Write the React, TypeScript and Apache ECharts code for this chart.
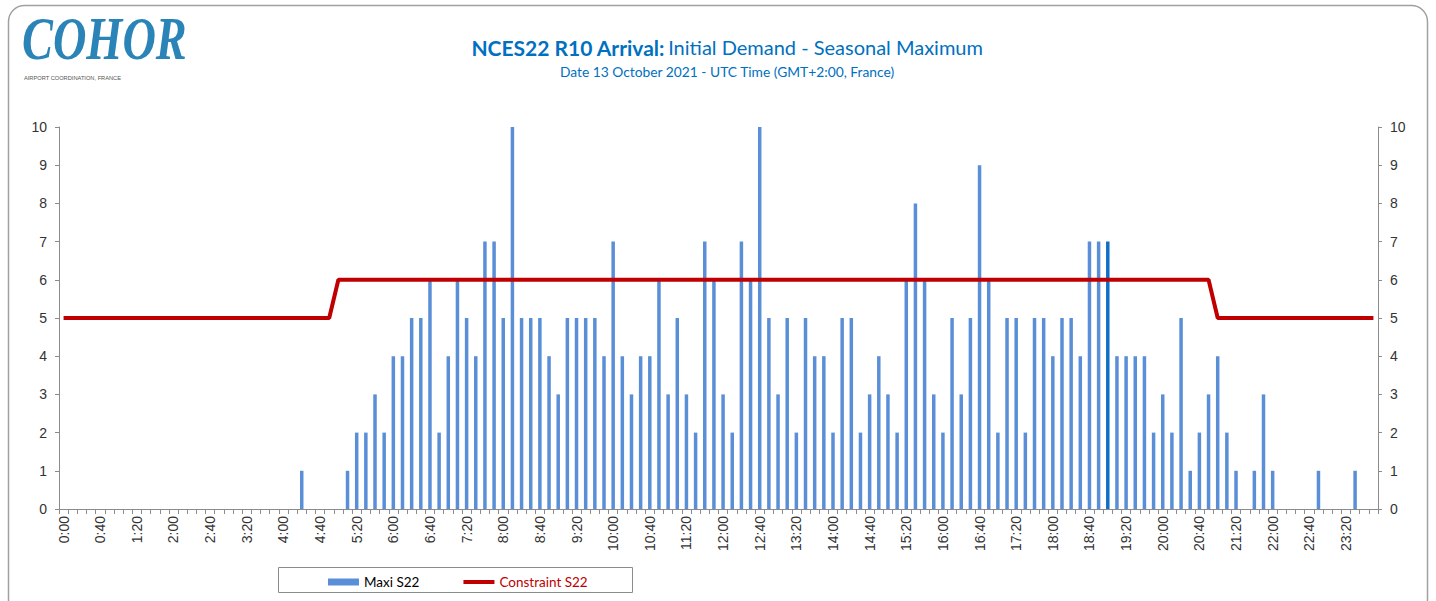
import React, { useEffect, useRef } from "react";
import * as echarts from "echarts";

const timeSlots = [
  "0:00","0:10","0:20","0:30","0:40","0:50","1:00","1:10","1:20","1:30","1:40","1:50",
  "2:00","2:10","2:20","2:30","2:40","2:50","3:00","3:10","3:20","3:30","3:40","3:50",
  "4:00","4:10","4:20","4:30","4:40","4:50","5:00","5:10","5:20","5:30","5:40","5:50",
  "6:00","6:10","6:20","6:30","6:40","6:50","7:00","7:10","7:20","7:30","7:40","7:50",
  "8:00","8:10","8:20","8:30","8:40","8:50","9:00","9:10","9:20","9:30","9:40","9:50",
  "10:00","10:10","10:20","10:30","10:40","10:50","11:00","11:10","11:20","11:30","11:40","11:50",
  "12:00","12:10","12:20","12:30","12:40","12:50","13:00","13:10","13:20","13:30","13:40","13:50",
  "14:00","14:10","14:20","14:30","14:40","14:50","15:00","15:10","15:20","15:30","15:40","15:50",
  "16:00","16:10","16:20","16:30","16:40","16:50","17:00","17:10","17:20","17:30","17:40","17:50",
  "18:00","18:10","18:20","18:30","18:40","18:50","19:00","19:10","19:20","19:30","19:40","19:50",
  "20:00","20:10","20:20","20:30","20:40","20:50","21:00","21:10","21:20","21:30","21:40","21:50",
  "22:00","22:10","22:20","22:30","22:40","22:50","23:00","23:10","23:20","23:30","23:40","23:50",
];

const maxiS22 = [
  0,0,0,0,0,0,0,0,0,0,0,0,
  0,0,0,0,0,0,0,0,0,0,0,0,
  0,0,1,0,0,0,0,1,2,2,3,2,
  4,4,5,5,6,2,4,6,5,4,7,7,
  5,10,5,5,5,4,3,5,5,5,5,4,
  7,4,3,4,4,6,3,5,3,2,7,6,
  3,2,7,6,10,5,3,5,2,5,4,4,
  2,5,5,2,3,4,3,2,6,8,6,3,
  2,5,3,5,9,6,2,5,5,2,5,5,
  4,5,5,4,7,7,7,4,4,4,4,2,
  3,2,5,1,2,3,4,2,1,0,1,3,
  1,0,0,0,0,1,0,0,0,1,0,0,
];

const highlightedSlot = "19:00";

const constraintS22: [string, number][] = [
  ["0:00", 5], ["4:50", 5], ["5:00", 6], ["20:50", 6], ["21:00", 5], ["23:50", 5],
];

const yMin = 0;
const yMax = 10;
const yInterval = 1;

const titleBold = "NCES22 R10 Arrival:";
const titleRest = "Initial Demand - Seasonal Maximum";
const subTitle = "Date 13 October 2021 - UTC Time (GMT+2:00, France)";
const logoText = "COHOR";
const logoSub = "AIRPORT COORDINATION, FRANCE";

const BLUE = "#5a8fd8";
const RED = "#c00000";
const AXIS = "#8c8c8c";
const FONT = '"Liberation Sans", Arial, sans-serif';
const TFONT = 'Lato, "Noto Sans", sans-serif';

export default function App() {
  const ref = useRef<HTMLDivElement>(null);
  useEffect(() => {
    if (!ref.current) return;
    const chart = echarts.init(ref.current, null, { renderer: "svg" });
    const yAxisCommon = {
      type: "value",
      min: yMin,
      max: yMax,
      interval: yInterval,
      splitLine: { show: false },
      axisLine: { show: true, lineStyle: { color: AXIS, width: 1 } },
      axisTick: { show: true, length: 4, lineStyle: { color: AXIS } },
      axisLabel: { color: "#333", fontSize: 14, fontFamily: FONT },
    };
    chart.setOption({
      animation: false,
      backgroundColor: "#fff",
      grid: { left: 59, right: 58, top: 127, bottom: 92, containLabel: false },
      xAxis: {
        type: "category",
        data: timeSlots,
        boundaryGap: true,
        axisLine: { lineStyle: { color: AXIS } },
        axisTick: { show: true, interval: 0, length: 5, alignWithLabel: false, lineStyle: { color: AXIS } },
        axisLabel: { interval: 3, rotate: 90, fontSize: 14, fontFamily: FONT, color: "#333", margin: 7 },
      },
      yAxis: [
        { ...yAxisCommon, position: "left", axisLabel: { ...yAxisCommon.axisLabel, margin: 12 } },
        { ...yAxisCommon, position: "right", axisLabel: { ...yAxisCommon.axisLabel, margin: 12 } },
      ],
      legend: {
        left: 328,
        top: 575,
        padding: 0,
        itemGap: 44,
        itemWidth: 31,
        itemHeight: 7,
        textStyle: { fontSize: 13.5, fontFamily: TFONT },
        data: [
          { name: "Maxi S22", icon: "rect", textStyle: { color: "#000" } },
          {
            name: "Constraint S22",
            icon: "path://M0,0L0.01,0M0,1.5H31V5.5H0ZM0,7L0.01,7",
            itemStyle: { borderWidth: 0 },
            textStyle: { color: RED },
          },
        ],
      },
      series: [
        {
          name: "Maxi S22",
          type: "bar",
          barWidth: 3.5,
          itemStyle: { color: BLUE },
          data: maxiS22.map((v, i) =>
            timeSlots[i] === highlightedSlot
              ? { value: v, itemStyle: { color: "#0f6fc6" } }
              : v
          ),
        },
        {
          name: "Constraint S22",
          type: "line",
          yAxisIndex: 0,
          symbol: "none",
          lineStyle: { color: RED, width: 4 },
          itemStyle: { color: RED },
          data: constraintS22,
          z: 3,
        },
      ],
      graphic: [
        {
          type: "rect",
          shape: { x: 8.5, y: 5.5, width: 1419, height: 610, r: 16 },
          style: { fill: "none", stroke: "#a0a0a0", lineWidth: 1.5 },
          silent: true,
        },
        {
          type: "rect",
          shape: { x: 278.5, y: 567.5, width: 354, height: 25 },
          style: { fill: "none", stroke: "#8c8c8c", lineWidth: 1 },
          silent: true,
        },
        {
          type: "text",
          x: 22,
          y: 8,
          scaleX: 1.03,
          scaleY: 1.35,
          style: {
            text: logoText,
            font: 'italic bold 45px "Liberation Serif", serif',
            fill: "#2a84b8",
            align: "left",
            verticalAlign: "top",
          },
        },
        {
          type: "text",
          x: 24,
          y: 78,
          style: {
            text: logoSub,
            font: '5.7px "Liberation Sans", sans-serif',
            fill: "#555",
            align: "left",
            verticalAlign: "middle",
          },
        },
        {
          type: "text",
          x: 727,
          y: 47,
          style: {
            text: "{b|" + titleBold + "} {n|" + titleRest + "}",
            align: "center",
            verticalAlign: "middle",
            rich: {
              b: { font: 'bold 21px ' + TFONT, fill: "#0070c0" },
              n: { font: '20px ' + TFONT, fill: "#0070c0" },
            },
          },
        },
        {
          type: "text",
          x: 727,
          y: 71,
          style: {
            text: subTitle,
            font: '13.8px ' + TFONT,
            fill: "#0070c0",
            align: "center",
            verticalAlign: "middle",
          },
        },
      ],
    });
    return () => chart.dispose();
  }, []);
  return (
    <div
      ref={ref}
      style={{ position: "fixed", left: 0, top: 0, width: 1436, height: 601 }}
    />
  );
}
